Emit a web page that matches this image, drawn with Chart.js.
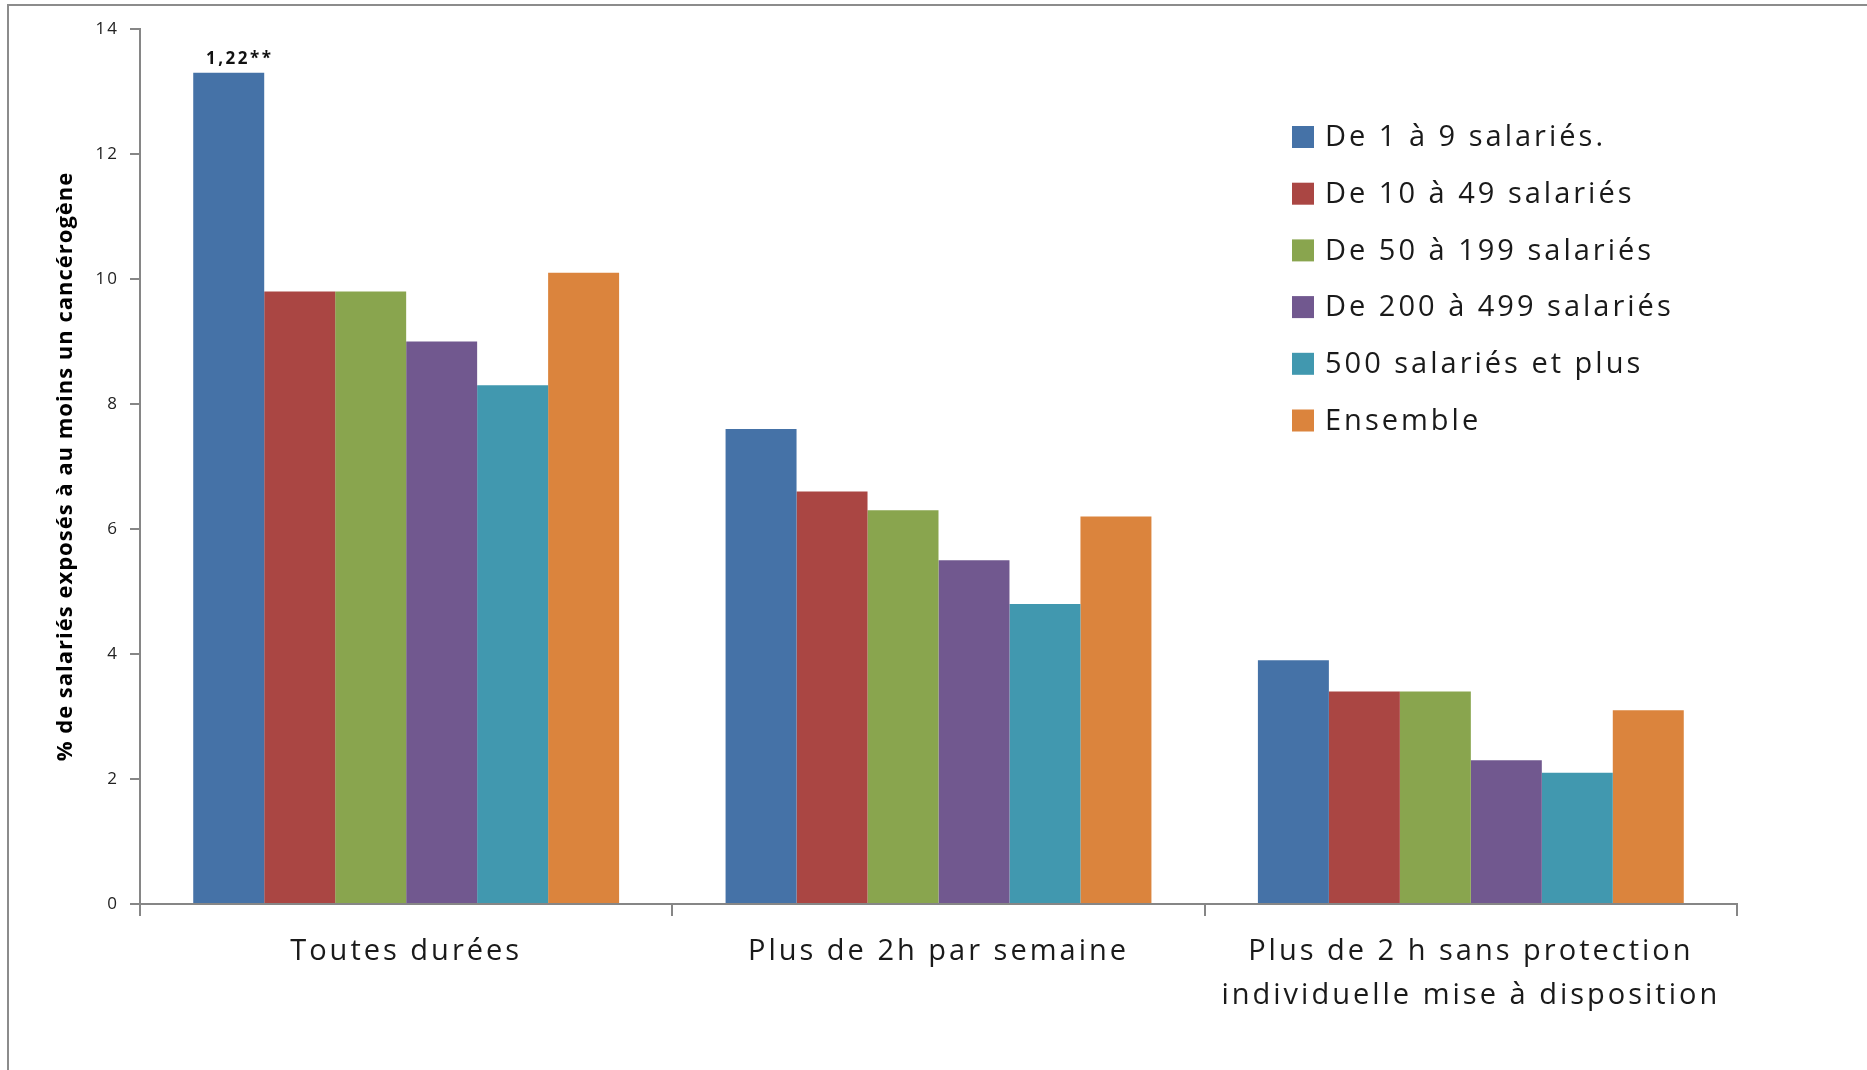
<!DOCTYPE html>
<html>
<head>
<meta charset="utf-8">
<script src="https://cdn.jsdelivr.net/npm/chart.js@4/dist/chart.umd.min.js"></script>
<style>
  html, body { margin: 0; padding: 0; background: #fff; }
  #wrap { position: relative; width: 1867px; height: 1070px; overflow: hidden; }
  #frame { position: absolute; left: 7px; top: 4px; width: 1900px; height: 1100px;
           border-top: 2px solid #8c8c8c; border-left: 2px solid #8c8c8c; }
  canvas { position: absolute; left: 0; top: 0; }
</style>
</head>
<body>
<div id="wrap">
  <div id="frame"></div>
  <canvas id="c" width="1867" height="1070"></canvas>
</div>
<script>
const categories = [
  "Toutes durées",
  "Plus de 2h par semaine",
  ["Plus de 2 h sans protection", "individuelle mise à disposition"]
];
const seriesNames = [
  "De 1 à 9 salariés.",
  "De 10 à 49 salariés",
  "De 50 à 199 salariés",
  "De 200 à 499 salariés",
  "500 salariés et plus",
  "Ensemble"
];
const s1to9 = [13.3, 7.6, 3.9];
const s10to49 = [9.8, 6.6, 3.4];
const s50to199 = [9.8, 6.3, 3.4];
const s200to499 = [9.0, 5.5, 2.3];
const s500plus = [8.3, 4.8, 2.1];
const sEnsemble = [10.1, 6.2, 3.1];
const yTicks = [0, 2, 4, 6, 8, 10, 12, 14];
const annotationText = "1,22**";
const yTitle = "% de salariés exposés à au moins un cancérogène";

const colors = ["#4572A7", "#AA4643", "#89A54E", "#71588F", "#4198AF", "#DB843D"];
const seriesValues = [s1to9, s10to49, s50to199, s200to499, s500plus, sEnsemble];

const FONT = "'Open Sans', 'DejaVu Sans', sans-serif";

function withSpacing(ctx, sp, fn) {
  const prev = ctx.letterSpacing;
  ctx.letterSpacing = sp;
  fn();
  ctx.letterSpacing = prev || '0px';
}

function patchAxis(axis, labelSp, titleSp) {
  if (axis._patched) return;
  axis._patched = true;
  const proto = Object.getPrototypeOf(axis);
  axis.drawLabels = function (area) {
    withSpacing(this.ctx, labelSp, () => proto.drawLabels.call(this, area));
  };
  axis.drawTitle = function () {
    withSpacing(this.ctx, titleSp, () => proto.drawTitle.call(this));
  };
}

const legendPlugin = {
  id: 'customLegend',
  afterDraw(chart) {
    const ctx = chart.ctx;
    ctx.save();
    const x0 = 1292, y0 = 137, step = 56.7, sq = 22;
    ctx.font = "29px " + FONT;
    ctx.textBaseline = 'middle';
    ctx.textAlign = 'left';
    chart.data.datasets.forEach((ds, i) => {
      const y = y0 + i * step;
      ctx.fillStyle = ds.backgroundColor;
      ctx.fillRect(x0, y - sq / 2, sq, sq);
      ctx.fillStyle = '#1a1a1a';
      withSpacing(ctx, '3px', () => ctx.fillText(ds.label, x0 + 33, y + 1));
    });
    // annotation above the first bar
    const bar = chart.getDatasetMeta(0).data[0];
    ctx.font = "bold 17px " + FONT;
    ctx.textAlign = 'center';
    ctx.textBaseline = 'alphabetic';
    ctx.fillStyle = '#111';
    withSpacing(ctx, '2.5px', () => ctx.fillText(annotationText, bar.x + 11, bar.y - 9));
    ctx.restore();
  }
};

new Chart(document.getElementById('c'), {
  type: 'bar',
  data: {
    labels: categories,
    datasets: seriesNames.map((name, i) => ({
      label: name,
      data: seriesValues[i],
      backgroundColor: colors[i],
      borderWidth: 0,
      barPercentage: 1.0,
      categoryPercentage: 0.8
    }))
  },
  options: {
    responsive: false,
    animation: false,
    devicePixelRatio: 1,
    layout: { padding: { left: 0, right: 130, top: 29, bottom: 0 } },
    plugins: { legend: { display: false }, tooltip: { enabled: false } },
    scales: {
      x: {
        offset: true,
        grid: { offset: true, drawOnChartArea: false, drawTicks: true, tickLength: 12, color: '#868686', lineWidth: 2 },
        border: { color: '#868686', width: 2 },
        ticks: { color: '#1a1a1a', font: { family: FONT, size: 29, lineHeight: 1.5 }, padding: 14, maxRotation: 0, autoSkip: false },
        afterFit(axis) { axis.height = 166; patchAxis(axis, '3px', '0px'); }
      },
      y: {
        min: 0, max: 14,
        afterBuildTicks(axis) { axis.ticks = yTicks.map(v => ({ value: v })); },
        grid: { drawOnChartArea: false, drawTicks: true, tickLength: 10, color: '#868686', lineWidth: 2 },
        border: { color: '#868686', width: 2 },
        ticks: { color: '#222', font: { family: FONT, size: 17 }, padding: 11 },
        title: { display: true, text: yTitle, color: '#000', font: { family: FONT, size: 22, weight: 'bold' }, padding: { top: 53, bottom: 0 } },
        afterFit(axis) { axis.width = 140; patchAxis(axis, '2px', '1px'); }
      }
    }
  },
  plugins: [legendPlugin]
});
</script>
</body>
</html>
